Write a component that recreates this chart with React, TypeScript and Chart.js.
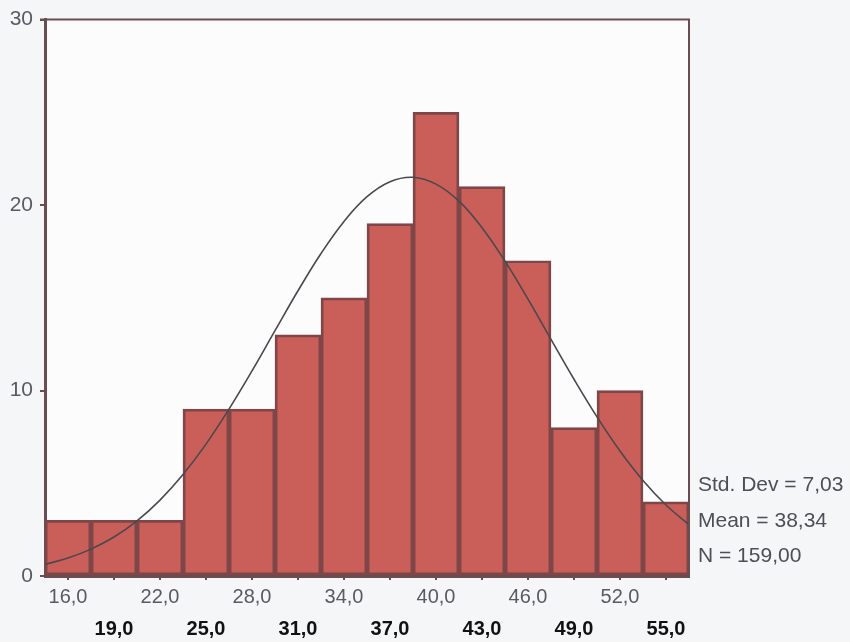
import React, { useEffect, useRef } from 'react';
import { Chart, registerables } from 'chart.js';

Chart.register(...registerables);

// Histogram bins (centres) and counts
const binCenters = [16, 19, 22, 25, 28, 31, 34, 37, 40, 43, 46, 49, 52, 55];
const counts = [3, 3, 3, 9, 9, 13, 15, 19, 25, 21, 17, 8, 10, 4];

// Normal curve
const curveX = [14.5, 16, 17.5, 19, 20.5, 22, 23.5, 25, 26.5, 28, 29.5, 31, 32.5, 34, 35.5, 37, 38.5, 40, 41.5, 43, 44.5, 46, 47.5, 49, 50.5, 52, 53.5, 55, 56.5];
const curveY = [0.63, 0.97, 1.45, 2.1, 2.97, 4.09, 5.47, 7.11, 9.0, 11.06, 13.23, 15.38, 17.39, 19.12, 20.45, 21.26, 21.5, 21.13, 20.21, 18.78, 16.98, 14.93, 12.76, 10.61, 8.58, 6.74, 5.15, 3.83, 2.77];

const yTicks = [0, 10, 20, 30];
const xMin = 14.5;
const xMax = 56.5;
const statsLines = ['Std. Dev = 7,03', 'Mean = 38,34', 'N = 159,00'];

const FAMILY = '"Liberation Sans", Arial, Helvetica, sans-serif';
const AXIS = '#6b4c50';

const fmt = (v: number) => v.toFixed(1).replace('.', ',');

export default function App() {
  const ref = useRef<HTMLCanvasElement>(null);

  useEffect(() => {
    const canvas = ref.current!;
    const framePlugin = {
      id: 'frame',
      beforeDraw(chart: any) {
        const { ctx, chartArea: a, width, height } = chart;
        ctx.save();
        ctx.fillStyle = '#f5f6f8';
        ctx.fillRect(0, 0, width, height);
        ctx.fillStyle = '#fcfcfd';
        ctx.fillRect(a.left, a.top, a.right - a.left, a.bottom - a.top);
        ctx.restore();
      },
      afterDatasetsDraw(chart: any) {
        const { ctx, chartArea: a } = chart;
        ctx.save();
        ctx.strokeStyle = AXIS;
        ctx.lineWidth = 2;
        ctx.beginPath();
        ctx.moveTo(a.left - 5, a.top);
        ctx.lineTo(a.right, a.top);
        ctx.lineTo(a.right, a.bottom);
        ctx.stroke();
        ctx.restore();
      },
      afterDraw(chart: any) {
        const { ctx, chartArea: a } = chart;
        ctx.save();
        ctx.font = '21px ' + FAMILY;
        ctx.fillStyle = '#4e4e58';
        ctx.textBaseline = 'middle';
        ctx.textAlign = 'left';
        const offs = [91, 55, 20];
        statsLines.forEach((t, i) => ctx.fillText(t, a.right + 9, a.bottom - offs[i]));
        ctx.restore();
      },
    };

    const chart = new Chart(canvas, {
      type: 'bar',
      data: {
        datasets: [
          {
            type: 'line',
            data: curveX.map((x, i) => ({ x, y: curveY[i] })),
            borderColor: '#4d474f',
            borderWidth: 1.6,
            pointRadius: 0,
            tension: 0.4,
            fill: false,
            order: 0,
          } as any,
          {
            type: 'bar',
            data: binCenters.map((x, i) => ({ x, y: counts[i] })),
            backgroundColor: '#c95f58',
            borderColor: '#7f4648',
            borderWidth: 2.8,
            borderSkipped: false,
            barPercentage: 1,
            categoryPercentage: 1,
            order: 1,
          } as any,
        ],
      },
      options: {
        animation: false,
        responsive: false,
        devicePixelRatio: 1,
        layout: { padding: { top: 18, right: 161, left: 0, bottom: 0 } },
        plugins: { legend: { display: false }, tooltip: { enabled: false } },
        scales: {
          x: {
            type: 'linear',
            min: xMin,
            max: xMax,
            offset: false,
            afterBuildTicks: (s: any) => {
              s.ticks = binCenters.map((v) => ({ value: v }));
            },
            afterFit: (s: any) => {
              s.height = 66;
            },
            grid: { drawOnChartArea: false, drawTicks: true, tickLength: 4, color: AXIS, lineWidth: 2, offset: false },
            border: { display: true, color: AXIS, width: 3 },
            ticks: {
              autoSkip: false,
              maxRotation: 0,
              minRotation: 0,
              padding: 10,
              callback: (v: any, i: number) => (i % 2 === 0 ? fmt(Number(v)) : ['', fmt(Number(v))]),
              color: (c: any) => (c.index % 2 ? '#111111' : '#5a5a62'),
              font: (c: any) =>
                c.index % 2
                  ? { family: FAMILY, size: 20, weight: 'bold', lineHeight: '26px' }
                  : { family: FAMILY, size: 20, lineHeight: '14px' },
            },
          } as any,
          y: {
            min: 0,
            max: 30,
            afterBuildTicks: (s: any) => {
              s.ticks = yTicks.map((v) => ({ value: v }));
            },
            afterFit: (s: any) => {
              s.width = 45;
            },
            grid: { drawOnChartArea: false, drawTicks: true, tickLength: 5, color: AXIS, lineWidth: 2 },
            border: { display: true, color: AXIS, width: 3 },
            ticks: { padding: 7, color: '#5a5a62', font: { family: FAMILY, size: 21 } },
          } as any,
        },
      },
      plugins: [framePlugin],
    });

    return () => chart.destroy();
  }, []);

  return (
    <div style={{ position: 'absolute', left: 0, top: 0, width: 850, height: 642 }}>
      <canvas ref={ref} width={850} height={642} style={{ display: 'block', width: 850, height: 642 }} />
    </div>
  );
}
